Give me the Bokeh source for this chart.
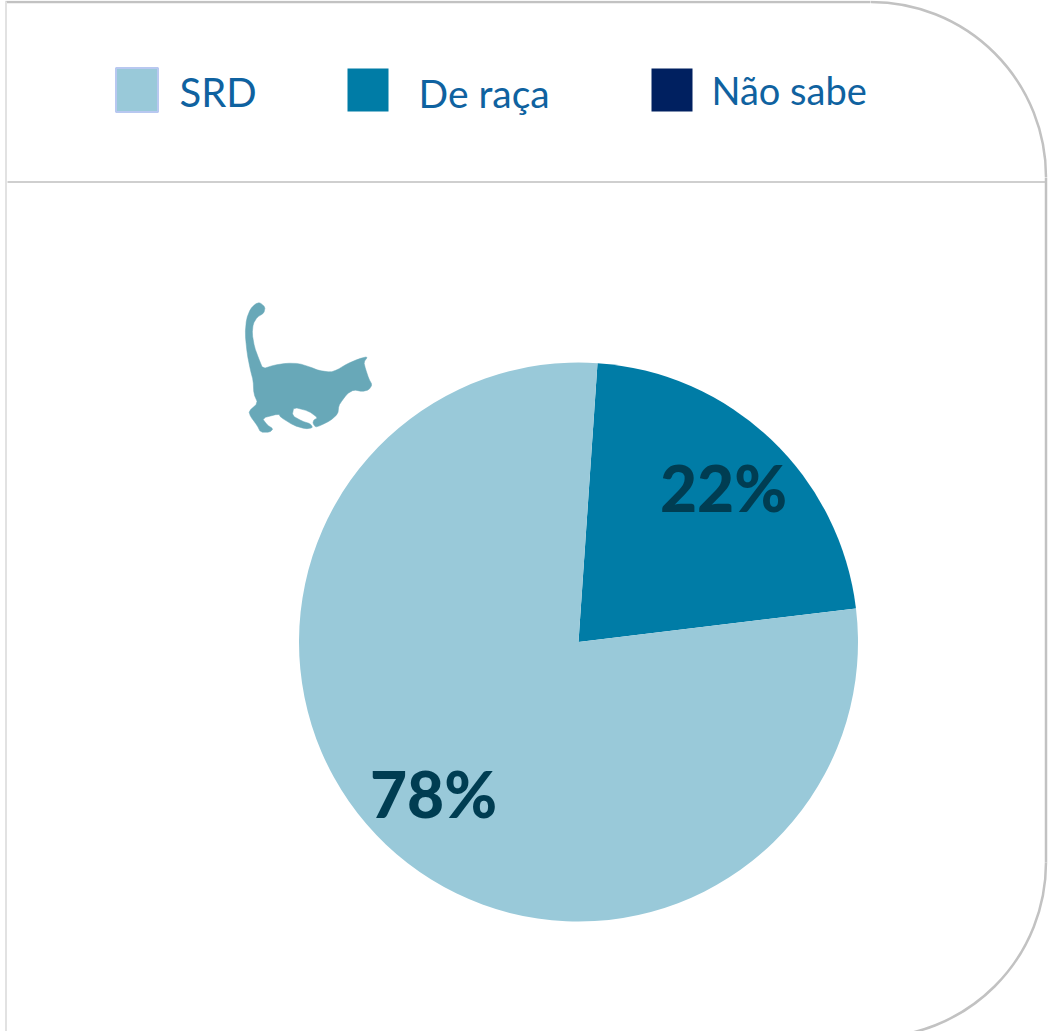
import math
from bokeh.plotting import figure
from bokeh.models import Range1d
from bokeh.core.properties import value
from bokeh.embed import file_html
from bokeh.resources import INLINE

categories = ["SRD", "De raça", "Não sabe"]
shares = [78, 22, 0]
colors = ["#99c9d9", "#007ca6", "#002060"]
share_labels = ["78%", "22%"]

# silhouette of the cat (decorative outline, in its own local units)
cat_x = [88,104,100,80,68,65,72,85,97,130,170,205,240,265,300,320,350,385,412,400,405,415,425,415,395,370,350,335,325,322,300,270,255,247,250,262,235,190,185,215,240,247,225,190,150,145,95,110,128,118,90,80,60,55,82,70,68,60,50,44,48,60,75]
cat_y = [36,50,68,80,100,130,170,205,235,224,218,219,230,240,245,238,220,205,198,215,235,265,283,298,303,298,310,330,345,370,390,405,410,398,388,382,362,350,375,392,400,412,415,405,380,370,383,403,415,425,425,405,378,362,338,310,270,240,190,130,85,55,40]

def smooth(xs, ys, rounds=1):
    for _ in range(rounds):
        nx, ny = [], []
        n = len(xs)
        for i in range(n):
            j = (i + 1) % n
            nx += [0.8 * xs[i] + 0.2 * xs[j], 0.2 * xs[i] + 0.8 * xs[j]]
            ny += [0.8 * ys[i] + 0.2 * ys[j], 0.2 * ys[i] + 0.8 * ys[j]]
        xs, ys = nx, ny
    return xs, ys

W, H = 1050, 1031
def Y(py):
    return H - py

p = figure(width=W, height=H, output_backend="svg", toolbar_location=None,
           x_range=Range1d(0, W), y_range=Range1d(0, H),
           min_border=0, outline_line_color=None, background_fill_color="white")
p.axis.visible = False
p.grid.visible = False

# frame
frame = "#c2c2c2"
p.segment([5], [Y(1.5)], [870], [Y(1.5)], line_color=frame, line_width=2.5)
p.segment([5.5], [Y(1)], [5.5], [Y(1031)], line_color="#e2e2e2", line_width=2)
p.segment([7], [Y(181.5)], [1045], [Y(181.5)], line_color="#cfcfcf", line_width=2)
p.segment([1045.5], [Y(177)], [1045.5], [Y(862)], line_color=frame, line_width=2.5)
p.arc([870.5], [Y(176.5)], radius=175, start_angle=0, end_angle=math.pi/2,
      line_color=frame, line_width=2.5)
p.arc([870.5], [Y(862)], radius=175, start_angle=-math.pi/2, end_angle=0,
      line_color=frame, line_width=2.5)

# pie: slices run counter-clockwise from the right-hand edge of "De raça"
cx, cy, r = 578, Y(641.5), 279.5
angle = math.radians(90 - 83.1)
total = sum(shares)
for i in [1, 0, 2]:
    sweep = 2 * math.pi * shares[i] / total
    if sweep == 0:
        continue
    p.wedge([cx], [cy], radius=r, start_angle=angle, end_angle=angle + sweep,
            fill_color=colors[i], line_color=None)
    angle += sweep

# percent labels
p.text([433, 723], [Y(793), Y(487)], text=share_labels,
       text_font=value("Lato Black"), text_font_size="64px",
       text_color="#003d52", text_align="center", text_baseline="middle")

# legend
sq_x = [136.5, 367.5, 671.5]
sq_y = [89.5, 89.5, 89.5]
p.rect(sq_x[0], Y(sq_y[0]), width=42, height=44, fill_color=colors[0],
       line_color="#b8c8f0", line_width=2)
p.rect(sq_x[1:], [Y(v) for v in sq_y[1:]], width=41, height=43,
       fill_color=colors[1:], line_color=None)
text_x = [179, 418, 711]
text_y = [91, 92, 89]
text_sizes = ["40px", "39px", "38px"]
for name, tx, ty, ts in zip(categories, text_x, text_y, text_sizes):
    p.text([tx], [Y(ty)], text=[name],
           text_font=value("Lato"), text_font_size=ts, text_color="#0f62a0",
           text_align="left", text_baseline="middle")

# cat
sx, sy = smooth(cat_x, cat_y)
p.patch([230 + v / 3 for v in sx], [Y(290 + v / 3) for v in sy],
        fill_color="#68a8b8", line_color="#68a8b8", line_width=0.5)

open("out.html", "w").write(file_html(p, INLINE))
